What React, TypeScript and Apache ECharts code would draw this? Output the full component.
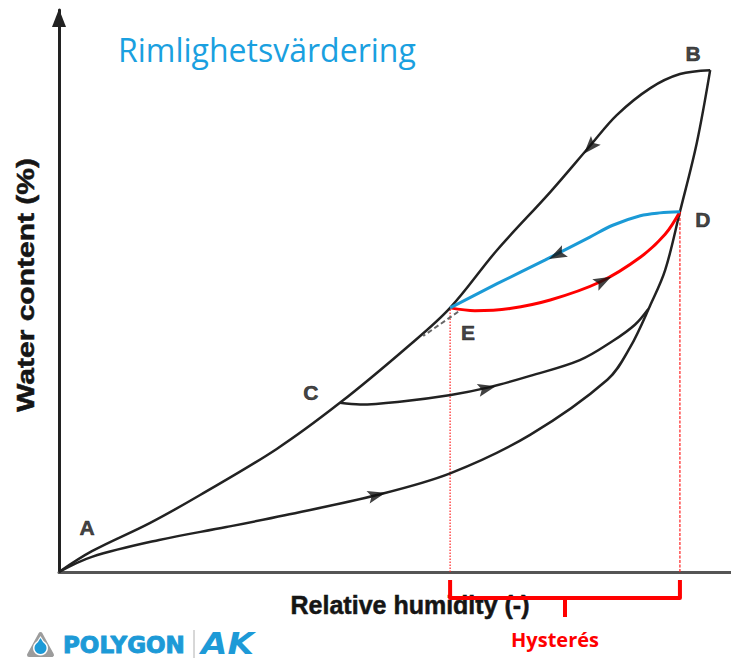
import React, { useEffect, useRef } from "react";
import * as echarts from "echarts";

// ---- data (relative humidity 0..1, water content 0..100) ----
const desorptionRH = [0, 0.049, 0.135, 0.21, 0.324, 0.418, 0.518, 0.582, 0.652, 0.731, 0.79, 0.83, 0.88, 0.924, 0.969];
const desorptionWC = [0, 3.7, 8.7, 13.7, 21.9, 30.1, 40.0, 47.0, 57.3, 67.6, 75.8, 81.3, 86.1, 88.6, 89.3];

const adsorptionRH = [0, 0.049, 0.149, 0.249, 0.336, 0.473, 0.583, 0.701, 0.816, 0.85, 0.88, 0.902, 0.924, 0.949, 0.969];
const adsorptionWC = [0, 2.7, 5.7, 8.0, 10.1, 13.7, 17.6, 24.4, 34.2, 40.0, 47.5, 53.7, 64.1, 76.3, 89.3];

const scanC_RH = [0.418, 0.448, 0.507, 0.583, 0.641, 0.701, 0.775, 0.824, 0.857, 0.877];
const scanC_WC = [30.1, 29.8, 30.3, 31.5, 32.9, 34.9, 37.7, 41.1, 44.0, 46.8];

const wettingRH = [0.582, 0.619, 0.671, 0.731, 0.805, 0.865, 0.902, 0.924];
const wettingWC = [47.0, 46.5, 46.9, 48.4, 51.6, 56.0, 60.1, 64.1];

const dryingRH = [0.582, 0.652, 0.723, 0.79, 0.824, 0.865, 0.894, 0.924];
const dryingWC = [47.0, 51.3, 55.5, 59.6, 61.7, 63.4, 63.9, 64.1];

const dashedRH = [0.594, 0.542];
const dashedWC = [46.3, 42.0];

const arrowRH = [0.79, 0.741, 0.81, 0.637, 0.473];
const arrowWC = [75.6, 56.4, 51.8, 32.7, 13.7];
const arrowAngle = [138.5, 117, -62, -76.5, -76];

const pointNames = ["A", "B", "C", "D", "E"];
const pointRH = [0, 0.969, 0.418, 0.924, 0.582];
const pointWC = [0, 89.3, 30.1, 64.1, 47.0];

const TITLE = "Rimlighetsvärdering";
const X_NAME = "Relative humidity (-)";
const Y_NAME = "Water content (%)";
const HYST = "Hysterés";

const zip = (a: number[], b: number[]) => a.map((v, i) => [v, b[i]]);

const E = [pointRH[4], pointWC[4]];
const D = [pointRH[3], pointWC[3]];

const labelOffsets: Record<string, number[]> = {
  A: [28, -45],
  B: [-17, -17],
  C: [-29, -10],
  D: [23, 8],
  E: [18, 25],
};

const BLUE_LOGO = "#1d9ad7";

export default function App() {
  const ref = useRef<HTMLDivElement>(null);
  useEffect(() => {
    if (!ref.current) return;
    const chart = echarts.init(ref.current, undefined, { renderer: "svg" });
    const black = { color: "#222", width: 2.5 };
    const lineBase = {
      type: "line",
      showSymbol: false,
      symbol: "none",
      silent: true,
      smooth: 0.35,
    };
    const option: any = {
      animation: false,
      backgroundColor: "#fff",
      grid: { left: 59, right: 0, top: 10, bottom: 90 },
      xAxis: {
        type: "value",
        min: 0,
        max: 1,
        axisLine: { show: true, lineStyle: { color: "#555", width: 3 } },
        axisTick: { show: false },
        axisLabel: { show: false },
        splitLine: { show: false },
      },
      yAxis: {
        type: "value",
        min: 0,
        max: 100,
        axisLine: {
          show: true,
          symbol: ["none", "triangle"],
          symbolSize: [14, 18],
          symbolOffset: [0, -8],
          lineStyle: { color: "#222", width: 3 },
        },
        axisTick: { show: false },
        axisLabel: { show: false },
        splitLine: { show: false },
      },
      series: [
        { ...lineBase, name: "desorption", data: zip(desorptionRH, desorptionWC), lineStyle: black },
        { ...lineBase, name: "adsorption", data: zip(adsorptionRH, adsorptionWC), lineStyle: black },
        { ...lineBase, name: "scanC", data: zip(scanC_RH, scanC_WC), lineStyle: black },
        {
          ...lineBase,
          name: "dashed",
          smooth: false,
          data: zip(dashedRH, dashedWC),
          lineStyle: { color: "#666", width: 2, type: [5, 3] },
        },
        {
          ...lineBase,
          name: "dotE",
          smooth: false,
          data: [[E[0], 0], [E[0], E[1]]],
          lineStyle: { color: "#ff2020", width: 1.2, type: [1.5, 1.5] },
          z: 1,
        },
        {
          ...lineBase,
          name: "dotD",
          smooth: false,
          data: [[D[0], 0], [D[0], D[1]]],
          lineStyle: { color: "#ff2020", width: 1.2, type: [3, 1.5] },
          z: 1,
        },
        { ...lineBase, name: "wetting", data: zip(wettingRH, wettingWC), lineStyle: { color: "#ff0000", width: 3 }, z: 3 },
        { ...lineBase, name: "drying", data: zip(dryingRH, dryingWC), lineStyle: { color: "#1b9ad6", width: 3 }, z: 3 },
        {
          type: "scatter",
          name: "arrows",
          silent: true,
          symbol: "path://M5,0 L10,15 L5,12 L0,15 Z",
          symbolSize: [13, 18],
          itemStyle: { color: "#111" },
          z: 4,
          data: arrowRH.map((x, i) => ({ value: [x, arrowWC[i]], symbolRotate: arrowAngle[i] })),
        },
        {
          type: "scatter",
          name: "points",
          silent: true,
          symbolSize: 0.1,
          itemStyle: { color: "transparent" },
          z: 5,
          data: pointNames.map((n, i) => ({
            name: n,
            value: [pointRH[i], pointWC[i]],
            label: { offset: labelOffsets[n] },
          })),
          label: {
            show: true,
            position: "inside",
            formatter: (p: any) => p.name,
            fontSize: 21,
            fontWeight: "bold",
            fontFamily: '"Liberation Sans", Arial, sans-serif',
            color: "#111",
            textBorderColor: "#111",
            textBorderWidth: 0.6,
          },
        },
        {
          type: "custom",
          name: "bracket",
          silent: true,
          clip: false,
          data: [[E[0], D[0]]],
          renderItem: (params: any, api: any) => {
            const a = api.coord([api.value(0), 0]);
            const b = api.coord([api.value(1), 0]);
            const y0 = a[1] + 8;
            const y1 = a[1] + 26;
            const y2 = a[1] + 45;
            const xm = (a[0] + b[0]) / 2;
            return {
              type: "group",
              children: [
                {
                  type: "polyline",
                  shape: { points: [[a[0], y0], [a[0], y1], [b[0], y1], [b[0], y0]] },
                  style: { stroke: "#ff0000", lineWidth: 4, fill: null, lineJoin: "round" },
                },
                {
                  type: "line",
                  shape: { x1: xm, y1: y1, x2: xm, y2: y2 },
                  style: { stroke: "#ff0000", lineWidth: 4 },
                },
                {
                  type: "text",
                  x: xm - 10,
                  y: a[1] + 67,
                  style: {
                    text: HYST,
                    fill: "#ff0000",
                    font: 'bold 20px "Open Sans"',
                    align: "center",
                    verticalAlign: "middle",
                    textAlign: "center",
                    textVerticalAlign: "middle",
                  },
                },
              ],
            };
          },
        },
      ],
      graphic: [
        {
          type: "text",
          x: 118,
          y: 49,
          style: {
            text: TITLE,
            fill: "#1aa0e0",
            font: '32px "Open Sans"',
            textAlign: "left",
            textVerticalAlign: "middle",
          },
        },
        {
          type: "text",
          x: 410,
          y: 605,
          style: {
            text: X_NAME,
            fill: "#151515",
            font: 'bold 25px "Liberation Sans"',
            textAlign: "center",
            textVerticalAlign: "middle",
            stroke: "#151515",
            lineWidth: 0.5,
          },
        },
        {
          type: "text",
          x: 26,
          y: 285,
          rotation: Math.PI / 2,
          scaleX: 1.25,
          style: {
            text: Y_NAME,
            fill: "#151515",
            font: 'bold 24px "Liberation Sans"',
            textAlign: "center",
            textVerticalAlign: "middle",
            stroke: "#151515",
            lineWidth: 0.5,
          },
        },
        {
          type: "polygon",
          shape: { points: [[29, 655], [40.5, 634], [52, 655]] },
          style: { fill: "#9c9c9c", stroke: "#9c9c9c", lineWidth: 4, lineJoin: "round" },
        },
        {
          type: "circle",
          shape: { cx: 40.5, cy: 648, r: 7.5 },
          style: { fill: "#fff" },
        },
        {
          type: "polygon",
          shape: { points: [[40.5, 636], [33.5, 647], [47.5, 647]] },
          style: { fill: "#fff" },
        },
        {
          type: "circle",
          shape: { cx: 40.5, cy: 648, r: 6 },
          style: { fill: BLUE_LOGO },
        },
        {
          type: "polygon",
          shape: { points: [[40.5, 638], [35, 647], [46, 647]] },
          style: { fill: BLUE_LOGO },
        },
        {
          type: "text",
          x: 63,
          y: 645,
          style: {
            text: "POLYGON",
            fill: BLUE_LOGO,
            font: 'bold 23px "DejaVu Sans"',
            textAlign: "left",
            textVerticalAlign: "middle",
            stroke: BLUE_LOGO,
            lineWidth: 1,
          },
        },
        {
          type: "line",
          shape: { x1: 194, y1: 630, x2: 194, y2: 658 },
          style: { stroke: "#b0b0b0", lineWidth: 1 },
        },
        {
          type: "text",
          x: 201,
          y: 644,
          scaleX: 1.1,
          style: {
            text: "AK",
            fill: BLUE_LOGO,
            font: 'italic bold 31px "DejaVu Sans"',
            textAlign: "left",
            textVerticalAlign: "middle",
          },
        },
      ],
    };
    chart.setOption(option);
    return () => chart.dispose();
  }, []);
  return (
    <div
      ref={ref}
      style={{ position: "fixed", left: 0, top: 0, width: 731, height: 662, background: "#fff" }}
    />
  );
}
